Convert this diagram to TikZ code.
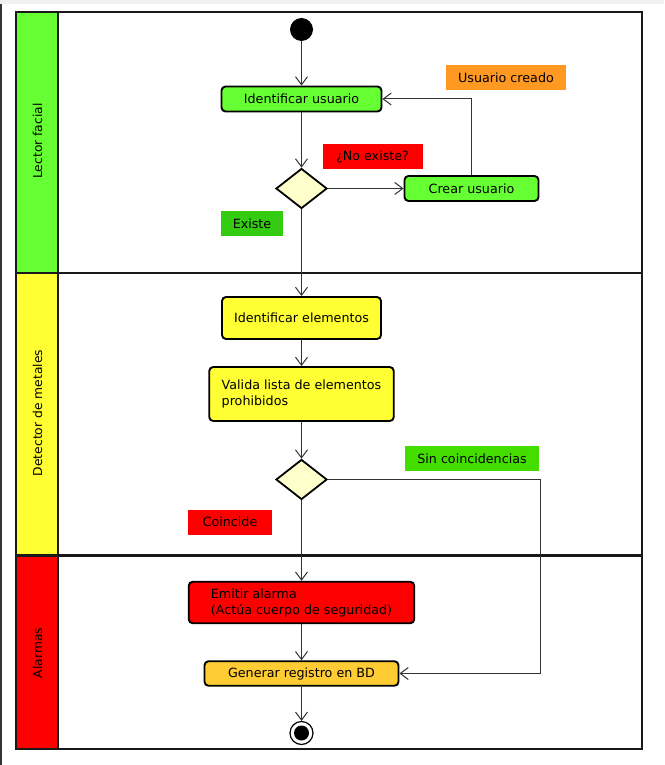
\documentclass[tikz,border=0pt]{standalone}
\usepackage{fontspec}
\setmainfont{DejaVu Sans}
\usetikzlibrary{arrows.meta, shapes.geometric}

\definecolor{verdelima}{HTML}{66FF33}
\definecolor{amarillo}{HTML}{FFFF33}
\definecolor{rojo}{HTML}{FF0000}
\definecolor{crema}{HTML}{FFFFCC}
\definecolor{ambar}{HTML}{FFCC33}
\definecolor{naranja}{HTML}{FF9922}
\definecolor{verdeok}{HTML}{33CC11}
\definecolor{verdesin}{HTML}{44DD00}
\definecolor{linea}{HTML}{333333}

\begin{document}
\begin{tikzpicture}[
            x = 1pt, y = -1pt, % pixel coordinates, y grows downwards
            > = {Straight Barb[length=8pt, width=12pt]}, % open arrow head
            shorten > = 0pt, % arrow head touches the node
            font = \fontsize{12.7}{16}\selectfont,
            semithick % line style
        ]

        \tikzstyle{accion}=[
            draw = black,
            line width = 1.9pt,
            rounded corners = 4pt,
            align = left,
            inner sep = 0pt
        ]
        \tikzstyle{etiqueta}=[
            rectangle,
            inner sep = 0pt,
            minimum height = 25pt
        ]
        \tikzstyle{decision}=[
            diamond,
            draw = black,
            line width = 1.8pt,
            fill = crema,
            inner sep = 0pt,
            minimum width = 51pt,
            minimum height = 40pt
        ]
        \tikzstyle{inicio}=[
            circle,
            fill = black,
            inner sep = 0pt,
            minimum size = 23pt
        ]
        \tikzstyle{fin}=[
            circle,
            draw = black,
            line width = 1.2pt,
            inner sep = 0pt,
            minimum size = 23pt,
            path picture = {\fill[black] (path picture bounding box.center) circle (7.5pt);}
        ]
        \tikzstyle{carril}=[draw = black!90, line width = 2.2pt]
        \tikzstyle{carriltexto}=[rotate = 90, font = \fontsize{12.3}{14}\selectfont]
        \tikzstyle{flujo}=[->, draw = linea, line width = 1pt]

        \useasboundingbox (0,0) rectangle (664,765);

        % window edge
        \fill[black!6] (0,0) rectangle (664,4);
        \draw[black!80, line width = 1.6pt] (0.8,4) -- (0.8,765);

        % swimlanes
        \fill[verdelima] (16,12) rectangle (58,273);
        \fill[amarillo] (16,273) rectangle (58,555.5);
        \fill[rojo] (16,555.5) rectangle (58,749);
        \draw[carril] (16,12) rectangle (642,749);
        \draw[carril] (58,12) -- (58,749);
        \draw[carril] (16,273) -- (642,273);
        \draw[carril] (16,555.5) -- (642,555.5);

        \node[carriltexto] (lector) at (37.5,141) {Lector facial};
        \node[carriltexto] (detector) at (37.5,413) {Detector de metales};
        \node[carriltexto] (alarmas) at (37.5,653) {Alarmas};

        % activities
        \node[inicio] (inicio) at (301.5,29.5) {};
        \node[accion, fill = verdelima, minimum width = 160pt, minimum height = 25pt] (idUsuario) at (301.5,99) {Identificar usuario};
        \node[decision] (dec1) at (301.5,188.5) {};
        \node[accion, fill = verdelima, minimum width = 134pt, minimum height = 25pt] (crear) at (471.5,188.5) {Crear usuario};
        \node[accion, fill = amarillo, minimum width = 159pt, minimum height = 42pt] (idElementos) at (301.5,318) {Identificar elementos};
        \node[accion, fill = amarillo, minimum width = 184.5pt, minimum height = 54pt] (valida) at (301.5,394) {Valida lista de elementos\\prohibidos};
        \node[decision] (dec2) at (301.5,479.5) {};
        \node[accion, fill = rojo, minimum width = 225.5pt, minimum height = 41.5pt] (emitir) at (301.5,602.5) {Emitir alarma\\(Actúa cuerpo de seguridad)};
        \node[accion, fill = ambar, minimum width = 194pt, minimum height = 24.5pt] (generar) at (301.5,673.5) {Generar registro en BD};
        \node[fin] (fin) at (301.5,733) {};

        % guards
        \node[etiqueta, fill = naranja, minimum width = 120pt] (creado) at (506,77.5) {Usuario creado};
        \node[etiqueta, fill = rojo, minimum width = 100pt] (noExiste) at (372.5,156.5) {¿No existe?};
        \node[etiqueta, fill = verdeok, minimum width = 62pt] (existe) at (252,223.5) {Existe};
        \node[etiqueta, fill = verdesin, minimum width = 134pt] (sinCoinc) at (472,458.3) {Sin coincidencias};
        \node[etiqueta, fill = rojo, minimum width = 84pt] (coincide) at (230,522) {Coincide};

        \coordinate (esquina) at (540,673.5);

        \path[flujo] (inicio) edge (idUsuario);
        \path[flujo] (idUsuario) edge (dec1);
        \path[flujo] (dec1) edge (crear);
        \draw[flujo] (crear.north) |- (idUsuario.east);
        \path[flujo] (dec1) edge (idElementos);
        \path[flujo] (idElementos) edge (valida);
        \path[flujo] (valida) edge (dec2);
        \path[flujo] (dec2) edge (emitir);
        \draw[flujo] (dec2.east) -| (esquina) -- (generar.east);
        \path[flujo] (emitir) edge (generar);
        \path[flujo] (generar) edge (fin);

  \end{tikzpicture}
\end{document}
